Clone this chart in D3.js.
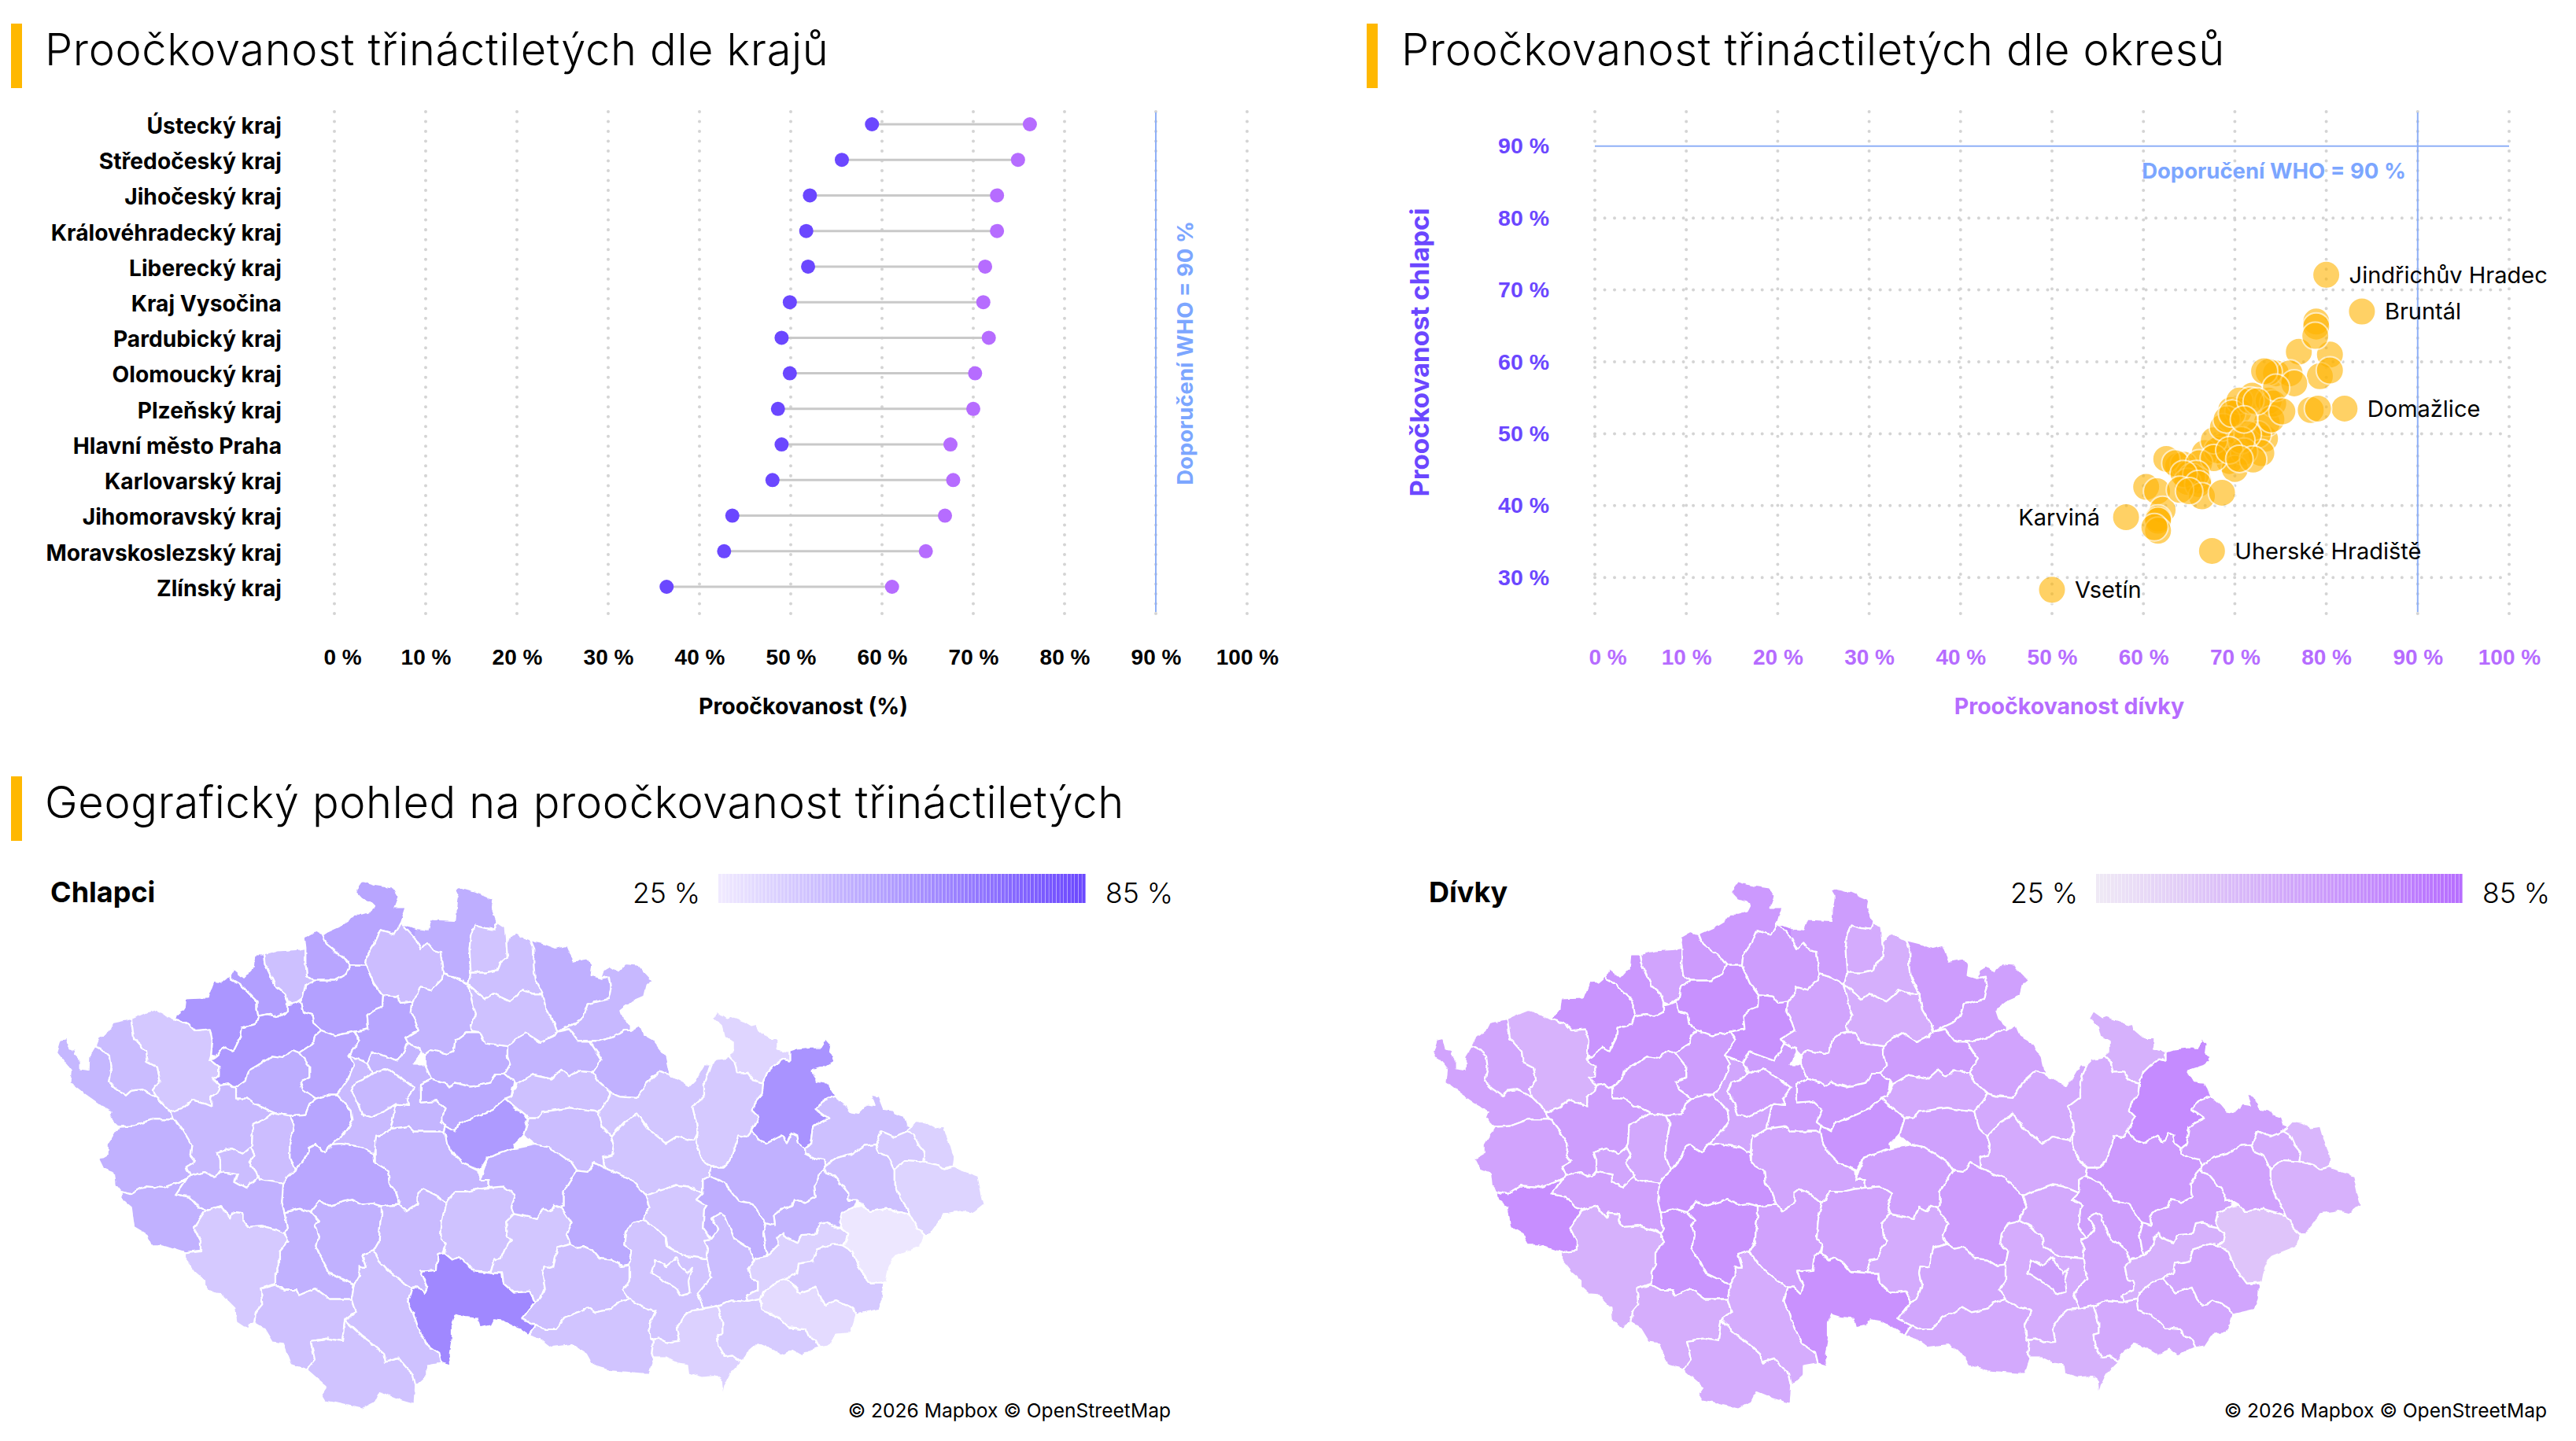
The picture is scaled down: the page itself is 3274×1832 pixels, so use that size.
<!DOCTYPE html>
<html lang="cs">
<head>
<meta charset="utf-8">
<title>Proočkovanost třináctiletých</title>
<script src="https://cdn.jsdelivr.net/npm/d3@7"></script>
<style>
  html, body { margin: 0; background: #fff; }
  svg { display: block; font-family: Inter, "Noto Sans", sans-serif; }
  .grid { stroke: #d4d4d4; stroke-width: 4; stroke-linecap: round; stroke-dasharray: 0.01 12.5; }
  .who { stroke: #8fb0f7; stroke-width: 2; }
  .axis .domain, .axis line { display: none; }
  .title { font-size: 56px; font-weight: 300; letter-spacing: 0.65px; }
</style>
</head>
<body>
<svg id="chart" width="3274" height="1832"></svg>
<script>
// KRAJE
const kraje = ["Ústecký kraj", "Středočeský kraj", "Jihočeský kraj", "Královéhradecký kraj", "Liberecký kraj", "Kraj Vysočina", "Pardubický kraj", "Olomoucký kraj", "Plzeňský kraj", "Hlavní město Praha", "Karlovarský kraj", "Jihomoravský kraj", "Moravskoslezský kraj", "Zlínský kraj"];
const krajeChlapci = [58.9, 55.6, 52.1, 51.7, 51.9, 49.9, 49, 49.9, 48.6, 49, 48, 43.6, 42.7, 36.4];
const krajeDivky = [76.2, 74.9, 72.6, 72.6, 71.3, 71.1, 71.7, 70.2, 70, 67.5, 67.8, 66.9, 64.8, 61.1];

// OKRESY
const okresy = ["Cheb", "Sokolov", "Karlovy Vary", "Chomutov", "Most", "Teplice", "Ústí nad Labem", "Děčín", "Litoměřice", "Louny", "Rakovník", "Kladno", "Plzeň-sever", "Tachov", "Rokycany", "Plzeň-město", "Domažlice", "Plzeň-jih", "Klatovy", "Strakonice", "Prachatice", "Český Krumlov", "České Budějovice", "Písek", "Beroun", "Praha-západ", "Příbram", "Benešov", "Praha-východ", "Praha", "Nymburk", "Mladá Boleslav", "Mělník", "Česká Lípa", "Liberec", "Jablonec nad Nisou", "Semily", "Trutnov", "Jičín", "Náchod", "Hradec Králové", "Rychnov nad Kněžnou", "Pardubice", "Chrudim", "Ústí nad Orlicí", "Svitavy", "Kolín", "Kutná Hora", "Tábor", "Pelhřimov", "Jindřichův Hradec", "Jihlava", "Havlíčkův Brod", "Žďár nad Sázavou", "Třebíč", "Znojmo", "Brno-venkov", "Brno-město", "Blansko", "Prostějov", "Vyškov", "Břeclav", "Hodonín", "Uherské Hradiště", "Kroměříž", "Zlín", "Vsetín", "Přerov", "Olomouc", "Bruntál", "Jeseník", "Šumperk", "Opava", "Ostrava-město", "Karviná", "Frýdek-Místek", "Nový Jičín"];
const okresyDivky = [69.6, 68.6, 60.3, 78.9, 77, 69.4, 74.5, 76, 80.4, 78.9, 71.9, 73.7, 73.3, 69.6, 66.7, 68.1, 82, 70.4, 61.5, 78.3, 63.8, 64.9, 64.4, 79.1, 73.2, 67.7, 79.3, 68.7, 73.5, 72.5, 70.5, 69.1, 80.4, 72.9, 73.7, 65, 62.5, 74.2, 63.5, 71.4, 74, 69.7, 66.1, 71, 66, 65.3, 76.5, 78.8, 70.7, 70, 80, 64.8, 71.7, 74.5, 67.7, 65.8, 64.4, 62.1, 66, 72.4, 69.4, 61.6, 66.4, 67.5, 61.6, 68.6, 50, 71, 75.2, 83.9, 61.6, 64, 72, 65, 58.1, 61.2, 70.5];
const okresyChlapci = [50.5, 48.2, 42.6, 65.6, 61.4, 46.2, 58.4, 58.4, 61, 64.9, 55.3, 58.6, 49.3, 53.3, 47.3, 47.7, 53.5, 53.1, 42, 53.3, 45.5, 44.8, 45.7, 53.5, 58.7, 49.1, 58, 50.9, 51.5, 49.9, 54.6, 52, 58.8, 47.3, 54.6, 44.4, 46.5, 54.2, 45.9, 49.9, 52, 52.8, 45.9, 47.5, 43.5, 44, 57, 63.6, 49.1, 45.1, 72.1, 43.3, 54.6, 56.4, 46.6, 44.4, 44.4, 39.4, 43, 54.5, 47.7, 38.2, 41.3, 33.7, 37.9, 41.8, 28.3, 52, 53.1, 67, 36.5, 42.2, 46.4, 42, 38.4, 37, 46.5];
const popisky = [
  { name: "Jindřichův Hradec", side: "right" },
  { name: "Bruntál", side: "right" },
  { name: "Domažlice", side: "right" },
  { name: "Karviná", side: "left" },
  { name: "Uherské Hradiště", side: "right" },
  { name: "Vsetín", side: "right" },
];

// obrysy okresu, poradi stejne jako okresy, pismeno = dlazdice mapy
const dlazdice = { A: [0, 0], B: [1200, 0], C: [2400, 0], D: [0, 1035], E: [1200, 1035], F: [2400, 1035] };
const okresyTvary = [
  "A 36,683 50,635 75,630 85,670 110,675 105,690 125,710 125,745 158,750 160,700 185,660 215,675 240,700 245,740 235,795 260,820 300,848 320,830 360,825 415,855 440,880 470,912 480,940 400,940 330,965 270,968 235,935 245,910 200,885 130,835 85,800 90,750",
  "A 185,660 195,630 235,600 250,570 320,555 325,590 330,630 375,680 380,720 420,740 430,790 405,825 415,855 360,825 320,830 300,848 260,820 235,795 245,740 240,700 215,675",
  "A 320,555 375,530 410,520 480,555 540,575 565,600 620,595 630,640 625,695 620,712 655,740 655,775 630,780 660,810 655,830 625,855 625,890 600,880 555,865 520,895 470,912 440,880 415,855 405,825 430,790 420,740 380,720 375,680 330,630 325,590",
  "A 480,555 520,520 525,478 610,475 635,410 665,415 695,390 700,405 735,425 770,460 800,490 800,520 805,545 795,575 740,590 735,630 710,680 680,665 640,700 625,695 630,640 620,595 565,600 540,575",
  "A 695,392 710,365 750,398 785,360 790,310 825,310 830,345 870,430 905,460 915,490 915,530 880,548 840,538 805,545 800,520 800,490 770,460 735,425 700,405",
  "A 825,310 880,295 960,290 985,285 985,340 990,390 1020,410 985,430 975,475 940,500 915,490 905,460 870,430 830,345",
  "A 980,245 1020,222 1050,232 1065,270 1140,330 1155,350 1140,385 1095,410 1020,410 990,390 985,340 985,285",
  "A 1050,232 1110,205 1150,180 1170,155 1200,155 B 35,145 45,125 30,110 0,100 A 1172,70 1200,30 B 50,45 120,55 140,90 125,130 170,130 150,190 125,235 70,220 50,265 20,315 15,350 A 1155,350 1140,330 1065,270",
  "A 975,475 985,430 1020,410 1095,410 1140,385 1155,350 1215,350 B 45,420 78,465 75,510 50,520 20,545 25,595 0,600 -30,605 -100,620 -155,600 -185,575 -190,540 -225,530 -235,490",
  "A 805,545 840,538 880,548 915,530 915,505 940,500 965,490 975,530 1010,540 1015,575 1045,600 1020,620 1015,650 960,685 935,675 900,705 855,700 800,735 765,755 755,790 720,815 710,820 690,805 660,810 630,780 655,775 655,740 620,712 640,700 680,665 710,680 735,630 740,590 795,575",
  "A 960,685 1000,735 1000,780 965,795 975,825 1025,860 1000,880 985,920 925,925 870,915 800,885 765,860 720,860 720,815 755,790 765,755 800,735 855,700 900,705 935,675",
  "A 960,685 1015,650 1020,620 1045,600 1100,620 1170,605 1190,640 1150,695 1170,730 1145,790 1105,845 1075,845 1025,860 975,825 965,795 1000,780 1000,735",
  "A 470,912 520,895 555,865 600,880 625,890 625,855 655,830 660,810 690,805 710,820 720,815 720,860 765,860 800,885 870,915 785,960 780,1035 775,1045 745,1070 700,1050 650,1065 660,1095 660,1135 640,1160 600,1140 545,1155 530,1120 565,1100 545,1075 550,1035 520,985 490,945 480,940",
  "A 270,968 330,965 400,940 480,940 490,945 520,985 550,1035 545,1075 565,1100 530,1120 545,1155 530,1165 500,1180 445,1200 370,1195 320,1225 280,1215 260,1190 255,1145 215,1130 195,1090 230,1070 230,1035",
  "A 785,960 870,915 925,925 940,960 925,1035 925,1085 945,1135 910,1165 905,1185 810,1170 805,1155 770,1105 790,1075 775,1045 780,1035",
  "A 650,1065 700,1050 745,1070 775,1045 790,1075 770,1105 805,1155 790,1175 760,1200 715,1175 725,1150 660,1140 660,1095",
  "A 280,1215 320,1225 370,1195 445,1200 500,1180 530,1165 490,1225 545,1235 580,1275 605,1285 560,1355 585,1405 585,1440 525,1447 440,1420 395,1420 380,1380 330,1350 320,1275 285,1245",
  "A 530,1165 545,1155 600,1140 640,1160 660,1140 725,1150 715,1175 760,1200 805,1155 810,1170 905,1185 895,1255 905,1295 915,1355 905,1375 875,1360 815,1345 765,1350 745,1325 745,1300 705,1295 700,1315 660,1270 605,1285 580,1275 545,1235 490,1225",
  "A 605,1285 660,1270 700,1315 705,1295 745,1300 745,1325 765,1350 815,1345 875,1360 905,1375 920,1405 885,1445 885,1495 870,1525 870,1565 815,1585 820,1645 795,1675 790,1715 770,1725 765,1740 720,1710 715,1660 660,1605 630,1603 600,1575 600,1555 565,1525 525,1475 525,1447 585,1440 585,1405 560,1355",
  "A 905,1295 960,1280 1005,1293 1035,1325 1020,1345 1035,1385 1025,1435 1050,1475 1075,1525 1170,1570 1160,1625 1075,1625 1020,1585 960,1610 950,1590 905,1590 870,1570 870,1525 885,1495 885,1445 920,1405 905,1375 915,1355",
  "D 815,550 870,535 905,555 950,555 960,575 1020,550 1075,590 1160,590 1175,640 1135,670 1125,750 1070,740 1005,750 1020,820 990,860 930,840 900,760 860,755 830,705 790,680 795,640 820,610",
  "D 990,860 1020,820 1005,750 1070,740 1125,750 1135,670 1200,720 E 0,730 40,760 85,800 90,830 140,815 195,880 205,920 200,990 130,970 70,945 50,985 0,1010 D 1090,985 1060,980 1045,955 1065,925 1030,895",
  "D 1170,535 1190,500 1190,465 1200,470 E 15,470 0,420 45,405 65,440 100,480 150,520 190,545 175,600 195,640 215,700 245,760 295,795 305,835 250,845 250,880 205,920 195,880 140,815 90,830 85,800 40,760 0,730 D 1135,670 1175,640 1160,590",
  "D 1005,258 1040,215 1070,235 1160,210 1200,230 E 40,225 75,235 75,270 70,300 65,370 45,405 0,420 15,470 0,470 D 1190,465 1190,500 1170,535 1075,490 1050,440 1025,400 1035,350 1020,310 1035,290",
  "A 925,925 985,920 1000,880 1025,860 1075,845 1105,845 1160,905 1165,945 1130,995 1085,1035 1060,1065 1035,1050 1020,1035 1000,1045 985,1085 945,1135 925,1085 925,1035 940,960",
  "B 0,715 20,725 40,765 0,790 -25,800 -40,830 -15,880 0,920 35,930 90,905 130,880 110,975 65,1005 55,1035 45,1070 25,1060 0,1045 -80,1032 -115,1035 -70,995 -35,945 -40,905 -95,845 -55,790 -30,730 -50,695",
  "A 945,1135 985,1085 1000,1045 1020,1035 1035,1050 1060,1065 1085,1035 1120,1032 1200,1045 B 25,1060 45,1070 50,1105 100,1135 105,1185 130,1215 145,1265 75,1270 40,1260 0,1265 -40,1245 -130,1270 -160,1250 -195,1293 -240,1280 -295,1295 -305,1255 -300,1185 -290,1165",
  "E 50,0 55,-35 65,-30 110,-60 180,-70 200,-50 315,-50 320,-30 325,0 350,35 385,70 445,100 450,125 485,135 485,165 445,170 400,180 350,180 320,225 285,195 235,170 215,185 215,225 170,255 145,230 130,180 105,150 100,100 50,70",
  "B 20,725 40,680 80,695 135,715 150,695 175,650 220,670 225,680 200,730 240,730 265,785 225,805 225,875 285,870 320,900 300,950 320,965 315,985 200,985 180,965 110,975 130,880 180,885 170,860 200,820 140,775 100,745 40,765",
  "B -40,830 -25,800 0,790 40,765 100,745 140,775 200,820 170,860 180,885 130,880 90,905 35,930 0,920 -15,880",
  "B 240,730 240,695 265,675 330,690 350,680 355,640 395,610 450,610 470,650 520,655 555,660 555,700 565,730 545,765 510,765 490,800 415,815 355,800 330,815 320,800 265,785",
  "B 190,490 215,460 225,435 265,445 305,405 310,385 350,395 405,425 420,490 435,540 415,580 420,605 395,610 355,640 350,680 330,690 265,675 240,695 225,680 220,670 175,650 165,630 215,600 205,570 185,530",
  "B 78,465 135,470 150,495 190,490 185,530 205,570 215,600 165,630 175,650 150,695 135,715 80,695 40,680 20,725 0,715 -50,695 -10,640 -30,605 0,600 25,595 20,545 50,520 75,510",
  "B 15,350 20,315 50,265 70,220 125,235 150,190 205,210 205,250 225,290 250,265 275,295 300,300 305,345 310,385 305,405 265,445 225,435 215,460 190,490 150,495 135,470 78,465 45,420",
  "B 150,190 205,210 250,215 265,175 355,180 360,130 365,90 350,65 375,55 430,70 500,100 495,130 515,185 505,215 470,210 430,200 415,235 410,290 415,380 405,425 350,395 310,385 305,345 300,300 275,295 250,265 225,290 205,250",
  "B 430,200 470,210 505,215 515,185 545,205 550,260 555,320 525,345 515,370 470,380 415,380 410,290 415,235",
  "B 550,260 575,235 590,230 620,250 640,255 655,290 655,350 660,405 690,460 650,460 610,445 590,470 565,490 500,460 470,480 405,425 415,380 470,380 515,370 525,345 555,320",
  "B 640,255 700,270 740,285 780,275 805,335 860,325 880,350 875,390 910,400 945,395 950,435 940,480 860,500 845,550 820,570 745,605 735,575 700,515 690,460 660,405 655,350 655,290",
  "B 405,425 470,480 500,460 565,490 590,470 610,445 650,460 690,460 700,515 735,575 745,605 735,620 680,645 625,610 590,630 555,660 520,655 470,650 450,610 420,605 415,580 435,540 420,490",
  "B 920,370 945,355 975,375 1005,345 1055,350 1110,410 1085,430 1075,470 1030,490 985,525 995,555 1025,580 1025,600 1000,600 960,625 905,640 870,640 825,640 790,595 745,605 820,570 845,550 860,500 940,480 950,435 945,395 910,400",
  "B 555,660 590,630 625,610 680,645 735,620 745,605 790,595 825,640 870,640 915,710 880,760 820,755 790,775 760,750 720,785 650,770 590,805 580,795 545,765 565,730 555,700",
  "B 870,640 905,640 960,625 1000,600 1025,600 1060,580 1075,615 1110,635 1160,700 1175,770 1135,755 1085,800 1050,855 985,850 950,840 905,800 880,760 915,710",
  "B 590,805 650,770 720,785 760,750 790,775 820,755 880,760 905,800 950,840 935,870 900,910 850,905 795,895 730,905 690,910 670,935 635,935 545,860 570,850",
  "B 635,935 670,935 690,910 730,905 795,895 850,905 900,910 920,975 950,1005 960,1035 955,1075 920,1085 925,1125 885,1105 860,1140 820,1135 800,1105 750,1070 710,1045 660,1035 615,1000",
  "B 950,840 985,850 1050,855 1085,800 1135,755 1175,770 1250,810 1270,790 1305,730 1330,730 1305,800 1305,855 1260,890 1275,950 1280,990 1265,1020 1200,1005 1160,1030 1090,975 1050,920 1000,950 950,1005 920,975 900,910 935,870",
  "B 950,1005 1000,950 1050,920 1090,975 1160,1030 1200,1005 1265,1020 1280,990 1275,1035 1300,1100 1330,1120 1325,1155 1300,1170 1300,1220 1240,1195 1200,1190 1110,1220 1085,1230 1020,1165 925,1125 920,1085 955,1075 960,1035",
  "B 225,805 265,785 320,800 330,815 355,800 415,815 490,800 510,765 545,765 580,795 570,850 545,860 500,900 420,935 370,955 355,985 320,965 300,950 320,900 285,870 225,875",
  "B 320,965 355,985 370,955 420,935 500,900 545,860 635,935 615,1000 580,1035 585,1050 520,1075 480,1085 450,1135 385,1105 350,1070 325,1035 315,985",
  "E 75,235 145,230 170,255 215,225 215,185 235,170 285,195 320,225 305,290 300,360 320,380 310,415 290,420 285,480 225,485 250,540 240,570 215,545 190,545 150,520 100,480 65,440 45,405 65,370 70,300 75,270",
  "E 320,225 350,180 400,180 445,170 485,165 540,160 585,190 570,240 580,265 550,295 555,350 570,365 545,400 530,435 505,440 490,490 430,485 400,450 370,430 345,440 315,415 320,380 300,360 305,290",
  "E 225,485 285,480 290,420 315,415 345,440 370,430 400,450 430,485 490,490 535,490 540,530 580,565 640,560 660,600 630,640 615,665 660,690 635,730 600,705 540,675 505,670 495,690 450,700 440,665 390,660 355,650 345,680 345,740 335,800 340,845 305,835 295,795 245,760 215,700 195,640 175,600 190,545 215,545 240,570 250,540",
  "E 580,265 630,275 670,285 690,240 720,255 735,230 760,240 800,300 780,345 795,380 745,395 730,470 695,465 690,490 700,540 680,590 660,600 640,560 580,565 540,530 535,490 490,490 505,440 530,435 545,400 570,365 555,350 550,295",
  "E 450,135 480,50 585,15 660,0 710,10 750,35 800,70 820,100 790,145 770,180 770,235 760,240 735,230 720,255 690,240 670,285 630,275 580,265 570,240 585,190 540,160 485,165 485,135",
  "E 820,100 860,105 885,70 925,90 1020,130 1085,195 1100,240 1075,270 1075,290 1030,300 1005,340 1000,380 1030,405 1020,460 990,465 950,440 905,435 880,405 850,390 825,395 795,380 780,345 800,300 760,240 770,235 770,180 790,145",
  "E 610,665 630,640 660,600 680,590 700,540 690,490 695,465 730,470 745,395 795,380 825,395 850,390 880,405 905,435 950,440 990,465 1020,460 1020,520 995,555 1020,590 975,605 945,630 890,640 855,620 825,640 775,660 740,705 700,705 660,690",
  "E 635,730 660,690 700,705 740,705 775,660 825,640 855,620 890,640 945,630 975,605 1020,590 1070,620 1120,635 1095,690 1100,745 1110,750 1105,800 1115,815 1095,875 1065,875 950,865 880,845 855,800 800,765 720,775 680,745",
  "E 1020,590 995,555 1020,520 1020,460 1030,405 1000,380 1005,340 1030,300 1075,290 1120,315 1160,355 1165,390 1200,410 F 25,425 115,435 130,510 80,570 105,625 60,630 30,655 0,700 10,750 E 1165,755 1135,740 1100,745 1095,690 1120,635 1070,620",
  "E 1120,440 1160,465 1200,430 1220,470 1240,490 1260,470 1245,520 1250,565 1215,575 1200,550 1160,525 1105,490",
  "E 1075,290 1075,270 1100,240 1085,195 1110,185 1200,155 1240,160 1300,185 1275,210 1315,235 1305,250 1300,320 1330,360 1305,365 1320,400 1315,435 1225,425 1200,410 1165,390 1160,355 1120,315",
  "F 100,135 125,120 180,145 235,215 290,225 340,300 330,340 345,425 300,435 295,445 275,395 220,360 185,275 165,262 135,280 160,320 130,360 100,320 105,250 115,235 75,210 100,185",
  "F 135,280 165,262 185,275 220,360 275,395 295,445 275,470 285,515 310,520 310,555 265,575 270,600 210,595 155,615 105,625 80,570 130,510 115,435 120,400 105,365 130,360 160,320",
  "E 1100,745 1135,740 1165,755 1210,750 1200,700 1230,655 1260,630 1305,625 F 155,615 175,680 175,720 155,725 160,765 185,810 215,805 250,830 210,870 185,920 175,965 170,900 150,885 95,890 45,875 40,840 0,835 E 1160,815 1115,815 1105,800 1110,750",
  "F 155,615 210,595 270,600 320,590 325,630 390,660 430,700 490,705 500,730 530,745 545,775 515,785 480,805 445,785 400,805 375,790 310,760 265,800 250,830 215,805 185,810 160,765 155,725 175,720 175,680",
  "F 320,590 330,565 380,525 420,510 470,565 530,545 550,590 570,615 610,595 675,625 685,650 665,720 610,725 580,770 545,775 530,745 500,730 490,705 430,700 390,660 325,630",
  "F 295,445 300,435 345,425 385,385 385,355 405,335 410,350 460,375 475,345 535,340 545,300 570,295 590,310 630,320 655,340 650,365 630,385 600,380 535,400 520,445 465,455 460,490 420,510 380,525 330,565 320,590 270,600 265,575 310,555 310,520 285,515 275,470",
  "F 420,510 460,490 465,455 520,445 535,400 600,380 630,385 670,410 695,470 740,530 790,530 785,590 770,630 685,650 675,625 610,595 570,615 550,590 530,545 470,565",
  "F 630,320 620,300 630,260 680,235 710,230 735,255 800,245 870,265 890,270 920,320 945,345 930,390 830,430 810,470 800,525 740,530 695,470 670,410 630,385 650,365 655,340",
  "F 340,300 375,310 370,270 395,250 440,235 450,210 490,220 530,200 525,155 555,100 565,90 570,110 600,120 655,185 655,215 685,215 680,235 630,260 620,300 630,320 590,310 570,295 545,300 535,340 475,345 460,375 410,350 405,335 385,355 385,385 345,425 330,340",
  "F 125,120 130,85 180,85 205,60 225,0 235,-35 270,-30 285,-50 320,-15 345,-5 400,-35 420,-5 440,-45 460,-35 465,-5 490,15 490,35 530,55 560,60 570,80 565,90 555,100 525,155 530,200 490,220 450,210 440,235 395,250 370,270 375,310 340,300 290,225 235,215 180,145",
  "C 430,715 430,680 460,670 510,665 550,665 572,630 590,650 585,685 600,700 600,720 575,735 515,755 540,795 575,800 605,850 555,870 530,900 580,935 520,965 510,1035 490,1050 465,1030 460,1000 440,990 420,1030 400,1000 345,1030 320,1020 285,985 315,930 290,905 295,880 325,845 330,800 345,760 370,735 405,710",
  "C 138,555 155,525 190,550 205,545 260,565 285,580 305,575 310,595 350,630 385,630 385,670 430,680 430,715 405,710 370,735 345,760 330,800 290,790 270,760 230,760 220,720 195,695 215,680 215,645 180,625 170,585",
  "C 130,730 150,710 190,705 195,695 220,720 230,760 270,760 290,790 330,800 325,845 295,880 290,905 315,930 285,985 270,1005 235,1000 225,1035 205,1095 180,1120 130,1120 100,1095 75,1035 80,990 75,950 60,890 105,855 105,800",
  "C 605,850 640,880 665,910 690,915 725,880 755,885 740,845 770,850 790,900 830,905 840,920 870,930 880,960 895,965 880,985 830,1005 780,985 760,1035 715,1040 670,1070 615,1085 570,1115 560,1095 530,1090 490,1070 490,1050 510,1035 520,965 580,935 530,900 555,870",
  "C 780,985 830,1005 880,985 905,1000 920,1035 945,1065 940,1100 870,1095 830,1130 805,1080 770,1065 760,1035",
  "C 895,965 915,945 950,950 985,970 1020,965 1030,1000 1045,1035 1060,1085 1055,1120 1020,1130 1000,1115 940,1100 945,1065 920,1035 905,1000 880,985",
  "C 830,1130 870,1095 940,1100 1000,1115 1020,1130 1055,1120 1150,1155 1165,1225 1175,1265 1130,1300 1090,1290 1020,1300 1005,1325 965,1380 945,1380 920,1355 890,1305 880,1280 850,1235 830,1185",
  "F 570,80 615,50 670,35 715,5 760,0 770,30 805,45 830,95 830,150 850,200 880,245 890,270 870,265 800,245 735,255 710,230 685,215 655,215 655,185 600,120 570,110 565,90",
];

// LEGENDA
const legendaMin = 25;
const legendaMax = 85;
const legendaTexty = ["25 %", "85 %"];
const barvaChlapci = "#6b47ff";
const barvaDivky = "#b66cff";
const barvaWho = "#7ca6ff";

const svg = d3.select("#chart");

function nadpis(text, xBar, xText, y) {
  svg.append("rect").attr("x", xBar).attr("y", y - 53).attr("width", 14).attr("height", 82).attr("fill", "#ffb800");
  svg.append("text").attr("class", "title").attr("x", xText).attr("y", y).text(text);
}

nadpis("Proočkovanost třináctiletých dle krajů", 14, 57, 83);
nadpis("Proočkovanost třináctiletých dle okresů", 1737, 1781, 83);
nadpis("Geografický pohled na proočkovanost třináctiletých", 14, 57, 1040);

const procenta = (d) => `${d} %`;

// Kraje, lollipop
function krajeChart() {
  const x = d3.scaleLinear().domain([0, 100]).range([425, 1585]);
  const y = d3.scalePoint().domain(kraje).range([158, 746]);
  const g = svg.append("g");

  g.append("g")
    .selectAll("line")
    .data(x.ticks(10))
    .join("line")
    .attr("class", "grid")
    .attr("x1", (d) => x(d))
    .attr("x2", (d) => x(d))
    .attr("y1", 142)
    .attr("y2", 782);

  g.append("line").attr("class", "who").attr("x1", x(90)).attr("x2", x(90)).attr("y1", 143).attr("y2", 778);
  g.append("text")
    .attr("transform", `translate(${x(90) + 47},449) rotate(-90)`)
    .attr("text-anchor", "middle")
    .attr("font-size", 27.5)
    .attr("font-weight", 700)
    .attr("fill", barvaWho)
    .text("Doporučení WHO = 90 %");

  g.selectAll(".spojka")
    .data(kraje)
    .join("line")
    .attr("class", "spojka")
    .attr("x1", (d, i) => x(krajeChlapci[i]))
    .attr("x2", (d, i) => x(krajeDivky[i]))
    .attr("y1", (d) => y(d))
    .attr("y2", (d) => y(d))
    .attr("stroke", "#c9c9c9")
    .attr("stroke-width", 3);

  g.selectAll(".kluci")
    .data(kraje)
    .join("circle")
    .attr("class", "kluci")
    .attr("cx", (d, i) => x(krajeChlapci[i]))
    .attr("cy", (d) => y(d))
    .attr("r", 9)
    .attr("fill", barvaChlapci);

  g.selectAll(".holky")
    .data(kraje)
    .join("circle")
    .attr("class", "holky")
    .attr("cx", (d, i) => x(krajeDivky[i]))
    .attr("cy", (d) => y(d))
    .attr("r", 9)
    .attr("fill", barvaDivky);

  g.selectAll(".kraj")
    .data(kraje)
    .join("text")
    .attr("class", "kraj")
    .attr("x", 358)
    .attr("y", (d) => y(d) + 2)
    .attr("dy", "0.35em")
    .attr("text-anchor", "end")
    .attr("font-size", 28.2)
    .attr("font-weight", 700)
    .text((d) => d);

  const osa = g
    .append("g")
    .attr("class", "axis")
    .attr("transform", "translate(0,822)")
    .call(d3.axisBottom(x).ticks(10).tickSize(0).tickFormat(procenta));
  osa.selectAll("text").attr("font-size", 28).attr("font-weight", 600).attr("font-family", "inherit").attr("fill", "#000");
  osa.selectAll("text").filter((d) => d === 0).attr("dx", 10);

  g.append("text")
    .attr("x", 1021)
    .attr("y", 908)
    .attr("text-anchor", "middle")
    .attr("font-size", 28.5)
    .attr("font-weight", 700)
    .text("Proočkovanost (%)");
}

// Okresy, scatter
function okresyChart() {
  const x = d3.scaleLinear().domain([0, 100]).range([2027, 3189]);
  const y = d3.scaleLinear().domain([25, 95]).range([780, 140]);
  const g = svg.append("g");

  g.append("g")
    .selectAll("line")
    .data(x.ticks(10))
    .join("line")
    .attr("class", "grid")
    .attr("x1", (d) => x(d))
    .attr("x2", (d) => x(d))
    .attr("y1", 142)
    .attr("y2", 782);

  g.append("g")
    .selectAll("line")
    .data(d3.range(30, 90, 10))
    .join("line")
    .attr("class", "grid")
    .attr("x1", x(0))
    .attr("x2", x(100))
    .attr("y1", (d) => y(d))
    .attr("y2", (d) => y(d));

  g.append("line").attr("class", "who").attr("x1", x(0)).attr("x2", x(100)).attr("y1", y(90)).attr("y2", y(90));
  g.append("line").attr("class", "who").attr("x1", x(90)).attr("x2", x(90)).attr("y1", 143).attr("y2", 778);
  g.append("text")
    .attr("x", 2890)
    .attr("y", 227)
    .attr("text-anchor", "middle")
    .attr("font-size", 27.5)
    .attr("font-weight", 700)
    .attr("fill", barvaWho)
    .text("Doporučení WHO = 90 %");

  g.selectAll(".okres")
    .data(okresy)
    .join("circle")
    .attr("class", "okres")
    .attr("cx", (d, i) => x(okresyDivky[i]))
    .attr("cy", (d, i) => y(okresyChlapci[i]))
    .attr("r", 17.5)
    .attr("fill", "#ffb400")
    .attr("stroke", "#fff")
    .attr("stroke-width", 2)
    .attr("opacity", 0.6);

  g.selectAll(".popisek")
    .data(popisky)
    .join("text")
    .attr("class", "popisek")
    .attr("x", (d) => x(okresyDivky[okresy.indexOf(d.name)]) + (d.side === "right" ? 29 : -33))
    .attr("y", (d) => y(okresyChlapci[okresy.indexOf(d.name)]))
    .attr("dy", "0.35em")
    .attr("text-anchor", (d) => (d.side === "right" ? "start" : "end"))
    .attr("font-size", 29)
    .text((d) => d.name);

  const osaX = g
    .append("g")
    .attr("class", "axis")
    .attr("transform", "translate(0,822)")
    .call(d3.axisBottom(x).ticks(10).tickSize(0).tickFormat(procenta));
  osaX.selectAll("text").attr("font-size", 28).attr("font-weight", 600).attr("font-family", "inherit").attr("fill", barvaDivky);
  osaX.selectAll("text").filter((d) => d === 0).attr("dx", 16);

  const osaY = g
    .append("g")
    .attr("class", "axis")
    .attr("transform", "translate(1972,0)")
    .call(d3.axisLeft(y).tickValues(d3.range(30, 100, 10)).tickSize(0).tickFormat(procenta));
  osaY.selectAll("text").attr("font-size", 28.5).attr("font-weight", 600).attr("font-family", "inherit").attr("fill", barvaChlapci);

  g.append("text")
    .attr("x", 2630)
    .attr("y", 908)
    .attr("text-anchor", "middle")
    .attr("font-size", 28.5)
    .attr("font-weight", 700)
    .attr("fill", barvaDivky)
    .text("Proočkovanost dívky");

  g.append("text")
    .attr("transform", "translate(1816,448) rotate(-90)")
    .attr("text-anchor", "middle")
    .attr("font-size", 33)
    .attr("font-weight", 700)
    .attr("fill", barvaChlapci)
    .text("Proočkovanost chlapci");
}

// Mapa
function tvarNaPolygon(tvar) {
  let posun = dlazdice.A;
  const body = [];
  tvar.split(" ").forEach((t) => {
    if (dlazdice[t]) posun = dlazdice[t];
    else {
      const [a, b] = t.split(",").map(Number);
      body.push([a + posun[0], b + posun[1]]);
    }
  });
  body.push(body[0]);
  return { type: "Feature", geometry: { type: "Polygon", coordinates: [body] } };
}

const defs = svg.append("defs");
const filtr = defs
  .append("filter")
  .attr("id", "hranice")
  .attr("x", "-3%")
  .attr("y", "-3%")
  .attr("width", "106%")
  .attr("height", "106%")
  .attr("color-interpolation-filters", "sRGB");
filtr.append("feTurbulence").attr("type", "fractalNoise").attr("baseFrequency", 0.1).attr("numOctaves", 2).attr("seed", 7).attr("result", "sum");
filtr.append("feDisplacementMap").attr("in", "SourceGraphic").attr("in2", "sum").attr("scale", 5).attr("xChannelSelector", "R").attr("yChannelSelector", "G");

function mapa(opts) {
  const barva = d3.scaleLinear().domain([legendaMin, legendaMax]).range(opts.rozsah);
  const path = d3.geoPath(d3.geoIdentity().scale(1 / 3).translate([opts.x, 1110]));
  const g = svg.append("g");

  g.append("g")
    .attr("filter", "url(#hranice)")
    .selectAll("path")
    .data(okresyTvary.map(tvarNaPolygon))
    .join("path")
    .attr("d", path)
    .attr("fill", (d, i) => barva(opts.hodnoty[i]))
    .attr("fill-opacity", 0.8)
    .attr("stroke", "#fff")
    .attr("stroke-width", 2.2)
    .attr("stroke-linejoin", "round");

  g.append("text").attr("x", opts.xNazev).attr("y", 1147).attr("font-size", 36).attr("font-weight", 700).text(opts.nazev);

  // legenda z tenkych prouzku
  const l = d3.scaleLinear().domain([legendaMin, legendaMax]).range(opts.legenda);
  const kroky = d3.range(legendaMin, legendaMax, 0.6);
  g.append("g")
    .selectAll("rect")
    .data(kroky)
    .join("rect")
    .attr("x", (d) => l(d))
    .attr("y", 1111)
    .attr("width", (d) => l(d + 0.6) - l(d) - 0.4)
    .attr("height", 37)
    .attr("fill", (d) => barva(d));

  g.append("text")
    .attr("x", opts.legenda[0] - 23)
    .attr("y", 1148)
    .attr("text-anchor", "end")
    .attr("font-size", 35.5)
    .attr("font-weight", 300)
    .text(legendaTexty[0]);
  g.append("text")
    .attr("x", opts.legenda[1] + 25)
    .attr("y", 1148)
    .attr("font-size", 35.5)
    .attr("font-weight", 300)
    .text(legendaTexty[1]);

  g.append("text")
    .attr("x", opts.konec)
    .attr("y", 1802)
    .attr("text-anchor", "end")
    .attr("font-size", 24.6)
    .text("© 2026 Mapbox © OpenStreetMap");
}

krajeChart();
okresyChart();
mapa({ nazev: "Chlapci", xNazev: 64, x: 60, hodnoty: okresyChlapci, rozsah: ["#f0eaff", barvaChlapci], legenda: [913, 1380], konec: 1488 });
mapa({ nazev: "Dívky", xNazev: 1816, x: 1809, hodnoty: okresyDivky, rozsah: ["#efe9f5", barvaDivky], legenda: [2664, 3130], konec: 3237 });
</script>
</body>
</html>
